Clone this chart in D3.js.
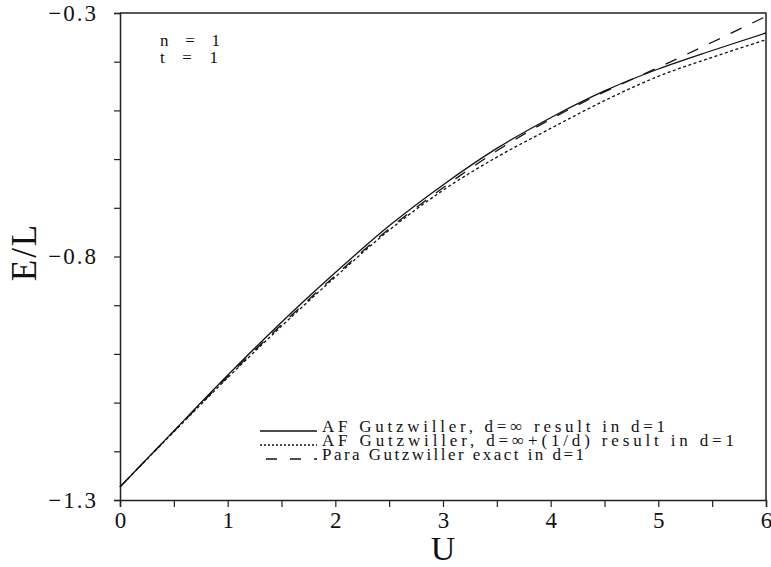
<!DOCTYPE html>
<html>
<head>
<meta charset="utf-8">
<script src="https://cdn.jsdelivr.net/npm/d3@7"></script>
<style>
  body { margin: 0; background: #fff; }
  svg { display: block; }
  text { font-family: "Liberation Serif", "DejaVu Serif", serif; fill: #111; }
</style>
</head>
<body>
<div id="chart"></div>
<script>
// U values (x axis)
var uValues = [0, 0.5, 1, 1.5, 2, 2.5, 3, 3.5, 4, 4.5, 5, 5.5, 6];

// E/L, AF Gutzwiller, d=inf result in d=1 (solid)
var afInf = [-1.273, -1.158, -1.044, -0.935, -0.833, -0.737, -0.653, -0.578, -0.515, -0.460, -0.415, -0.377, -0.341];
// E/L, AF Gutzwiller, d=inf+(1/d) result in d=1 (dotted)
var afInfD = [-1.273, -1.160, -1.049, -0.943, -0.842, -0.746, -0.664, -0.596, -0.537, -0.480, -0.430, -0.391, -0.355];
// E/L, para Gutzwiller exact in d=1 (dashed)
var paraExact = [-1.273, -1.159, -1.047, -0.940, -0.839, -0.743, -0.659, -0.583, -0.518, -0.462, -0.412, -0.360, -0.307];

var xTicks = [0, 0.5, 1, 1.5, 2, 2.5, 3, 3.5, 4, 4.5, 5, 5.5, 6];
var xTickLabels = [0, 1, 2, 3, 4, 5, 6];
var yTicks = [-1.3, -1.2, -1.1, -1.0, -0.9, -0.8, -0.7, -0.6, -0.5, -0.4, -0.3];
var yTickLabels = [-1.3, -0.8, -0.3];

var legendLabels = [
	"AF Gutzwiller, d=\u221E result in d=1",
	"AF Gutzwiller, d=\u221E+(1/d) result in d=1",
	"Para Gutzwiller exact in d=1"
];

var opts = {
	width: 771,
	height: 567,
	left: 120,
	right: 766,
	top: 13,
	bottom: 500
};

function createSvg(container, width, height)
{
	var svg = container.append("svg");
	svg.attr("width", width);
	svg.attr("height", height);
	return svg;
}

function drawChart()
{
	var svg = createSvg(d3.select("#chart"), opts.width, opts.height);

	var x = d3.scaleLinear().domain([0, 6]).range([opts.left, opts.right]);
	var y = d3.scaleLinear().domain([-1.3, -0.3]).range([opts.bottom, opts.top]);

	// frame (top and right)
	svg.append("path")
		.attr("d", "M" + x(0) + "," + y(-0.3) + "H" + x(6) + "V" + y(-1.3))
		.attr("fill", "none")
		.attr("stroke", "#222")
		.attr("stroke-width", 1.5);

	// bottom axis
	var xAxis = d3.axisBottom(x)
		.tickValues(xTicks)
		.tickSize(7)
		.tickPadding(5)
		.tickFormat(function(d) { return xTickLabels.indexOf(d) >= 0 ? d3.format("d")(d) : ""; });

	var gx = svg.append("g")
		.attr("transform", "translate(0," + y(-1.3) + ")")
		.call(xAxis)
		.attr("font-family", "Liberation Serif");
	gx.select(".domain").attr("stroke", "#222").attr("stroke-width", 1.5);
	gx.selectAll(".tick line").attr("stroke", "#222").attr("stroke-width", 1.2);
	gx.selectAll(".tick text")
		.style("font-size", "23px")
		.attr("fill", "#111");

	// left axis
	var yAxis = d3.axisLeft(y)
		.tickValues(yTicks)
		.tickSize(6)
		.tickPadding(16)
		.tickFormat(function(d) {
			var hit = yTickLabels.some(function(v) { return Math.abs(v - d) < 1e-6; });
			return hit ? d3.format(".1f")(d) : "";
		});

	var gy = svg.append("g")
		.attr("transform", "translate(" + x(0) + ",0)")
		.call(yAxis)
		.attr("font-family", "Liberation Serif");
	gy.select(".domain").attr("stroke", "#222").attr("stroke-width", 1.5);
	gy.selectAll(".tick line").attr("stroke", "#222").attr("stroke-width", 1.2);
	gy.selectAll(".tick text")
		.style("font-size", "23px")
		.style("letter-spacing", "2px")
		.attr("fill", "#111");

	// curves
	var series = [
		{ values: afInf, dash: null },
		{ values: afInfD, dash: "3,2.5" },
		{ values: paraExact, dash: "12,12" }
	];

	var line = d3.line()
		.x(function(d) { return x(d[0]); })
		.y(function(d) { return y(d[1]); })
		.curve(d3.curveMonotoneX);

	series.forEach(function(s) {
		var pts = uValues.map(function(u, i) { return [u, s.values[i]]; });
		svg.append("path")
			.datum(pts)
			.attr("d", line)
			.attr("fill", "none")
			.attr("stroke", "#111")
			.attr("stroke-width", 1.3)
			.attr("stroke-dasharray", s.dash);
	});

	// legend
	var legendX = 260;
	var legendY = [431, 445, 459];
	var legendLen = [343, 412, 262];
	var sampleDash = [null, "2,2", "11,13"];

	legendLabels.forEach(function(label, i) {
		svg.append("line")
			.attr("x1", legendX + (i == 2 ? 6 : 0))
			.attr("x2", legendX + 57)
			.attr("y1", legendY[i])
			.attr("y2", legendY[i])
			.attr("stroke", "#111")
			.attr("stroke-width", 1.3)
			.attr("stroke-dasharray", sampleDash[i]);

		svg.append("text")
			.attr("x", legendX + 62)
			.attr("y", legendY[i] + 1)
			.attr("textLength", legendLen[i])
			.attr("lengthAdjust", "spacing")
			.style("font-size", "17px")
			.text(label);
	});

	// n, t annotation
	svg.append("text")
		.attr("x", 160).attr("y", 46)
		.attr("textLength", 60).attr("lengthAdjust", "spacing")
		.style("font-size", "17px")
		.text("n = 1");
	svg.append("text")
		.attr("x", 160).attr("y", 63)
		.attr("textLength", 58).attr("lengthAdjust", "spacing")
		.style("font-size", "17px")
		.text("t = 1");

	// axis titles
	svg.append("text")
		.attr("x", x(3))
		.attr("y", 560)
		.attr("text-anchor", "middle")
		.style("font-size", "34px")
		.text("U");

	svg.append("text")
		.attr("transform", "translate(36,252) rotate(-90)")
		.attr("text-anchor", "middle")
		.style("font-size", "35px")
		.style("letter-spacing", "2px")
		.text("E/L");
}

drawChart();
</script>
</body>
</html>
